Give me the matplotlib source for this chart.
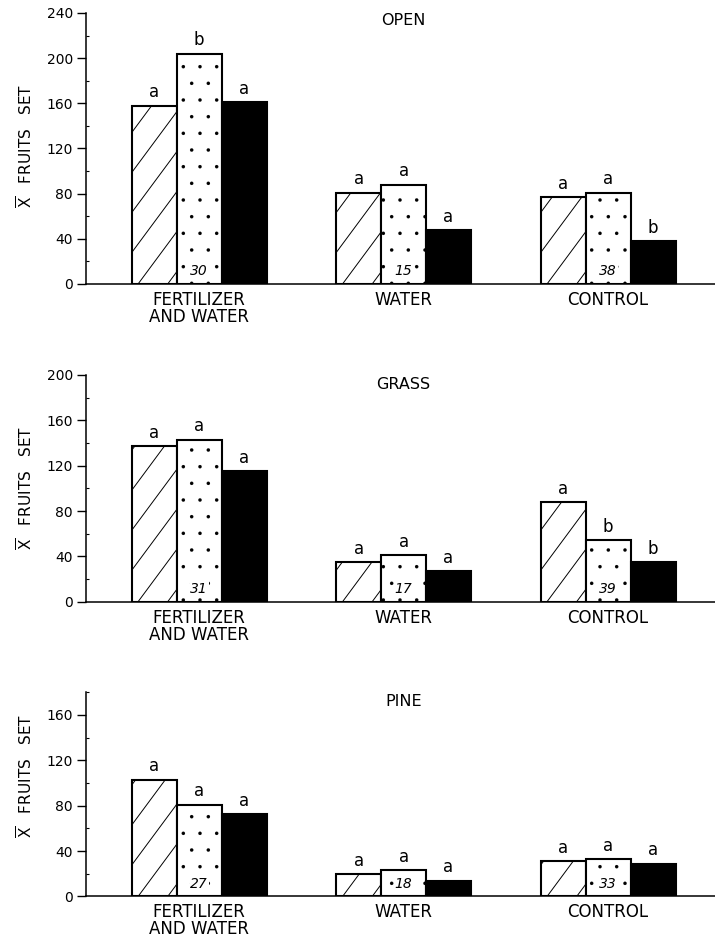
import numpy as np
import matplotlib
matplotlib.use('Agg')
import matplotlib.pyplot as plt
from matplotlib.lines import Line2D
from matplotlib.ticker import MultipleLocator

# treatment groups and habitat panels
groups = ['FERTILIZER\nAND WATER', 'WATER', 'CONTROL']
habitats = ['OPEN', 'GRASS', 'PINE']

# mean fruits set, one list per bar type (hatched / dotted / black)
open_hatch = [158, 81, 77]
open_dots = [204, 88, 81]
open_black = [161, 48, 38]
open_letters = [['a', 'b', 'a'], ['a', 'a', 'a'], ['a', 'a', 'b']]
open_n = ['30', '15', '38']

grass_hatch = [137, 35, 88]
grass_dots = [143, 41, 54]
grass_black = [115, 27, 35]
grass_letters = [['a', 'a', 'a'], ['a', 'a', 'a'], ['a', 'b', 'b']]
grass_n = ['31', '17', '39']

pine_hatch = [103, 20, 31]
pine_dots = [81, 23, 33]
pine_black = [73, 14, 29]
pine_letters = [['a', 'a', 'a'], ['a', 'a', 'a'], ['a', 'a', 'a']]
pine_n = ['27', '18', '33']

ymax = [240, 200, 180]
ytop_label = [240, 200, 160]

panels = [
    (open_hatch, open_dots, open_black, open_letters, open_n),
    (grass_hatch, grass_dots, grass_black, grass_letters, grass_n),
    (pine_hatch, pine_dots, pine_black, pine_letters, pine_n),
]

plt.rcParams['font.family'] = 'DejaVu Sans'
plt.rcParams['mathtext.fontset'] = 'dejavusans'
plt.rcParams['hatch.linewidth'] = 0.1

fig = plt.figure(figsize=(7.15, 9.4), dpi=100)
boxes = [[0.1203, 0.6979, 0.8797, 0.2883],
         [0.1203, 0.3599, 0.8797, 0.2412],
         [0.1203, 0.0463, 0.8797, 0.2172]]
title_y = [0.974, 0.956, 0.954]
ylab_y = [0.51, 0.5, 0.59]


def stripe(ax, bar, gap=40, slope=1.35):
    # sparse diagonal hatch lines, clipped to the bar
    x0, y0 = ax.transData.transform((bar.get_x(), 0))
    x1, y1 = ax.transData.transform((bar.get_x() + bar.get_width(), bar.get_height()))
    inv = ax.transData.inverted()
    b = y0 - slope * x1 + 12
    while b < y1 - slope * x0:
        pts = inv.transform([(x0, slope * x0 + b), (x1, slope * x1 + b)])
        ln = Line2D(pts[:, 0], pts[:, 1], color='k', lw=0.7, zorder=2)
        ax.add_line(ln)
        ln.set_clip_path(bar)
        b += gap


x = np.arange(len(groups))
w = 0.22

for i, (hv, dv, bv, letters, ns) in enumerate(panels):
    ax = fig.add_axes(boxes[i])
    ax.set_xlim(-0.553, 2.523)
    ax.set_ylim(0, ymax[i])

    b1 = ax.bar(x - w, hv, w, facecolor='white', edgecolor='k', linewidth=1.5, zorder=1)
    b2 = ax.bar(x, dv, w, facecolor='white', edgecolor='k', linewidth=1.5, hatch='.', zorder=1)
    b3 = ax.bar(x + w, bv, w, facecolor='k', edgecolor='k', linewidth=1.5, zorder=1)

    for bar in b1:
        stripe(ax, bar)

    for g in range(len(groups)):
        for k, (bars, off) in enumerate([(b1, -w), (b2, 0), (b3, w)]):
            ax.annotate(letters[g][k], (x[g] + off, bars[g].get_height()),
                        xytext=(0, 3), textcoords='offset points',
                        ha='center', va='bottom', fontsize=12)
        ax.annotate(ns[g], (x[g], 0), xytext=(0, 4), textcoords='offset points',
                    ha='center', va='bottom', fontsize=10, style='italic',
                    bbox=dict(fc='white', ec='none', pad=0.5), zorder=3)

    for s in ['top', 'right']:
        ax.spines[s].set_visible(False)
    for s in ['left', 'bottom']:
        ax.spines[s].set_linewidth(1.1)

    ax.set_yticks(np.arange(0, ytop_label[i] + 1, 40))
    ax.yaxis.set_minor_locator(MultipleLocator(20))
    ax.tick_params(axis='y', which='major', direction='out', length=6.5, width=1,
                   labelsize=10, pad=3)
    ax.tick_params(axis='y', which='minor', direction='in', length=2.5, width=0.8)
    ax.set_xticks(x, groups)
    ax.tick_params(axis='x', length=0, pad=5, labelsize=12)
    for lab in ax.get_xticklabels():
        lab.set_linespacing(0.92)

    ax.set_ylabel(r'$\overline{\mathrm{X}}$   FRUITS   SET', fontsize=11)
    ax.yaxis.set_label_coords(-0.08, ylab_y[i])

    ax.text(1, title_y[i], habitats[i], transform=ax.get_xaxis_transform(),
            ha='center', va='center', fontsize=11.5)

fig.savefig('out.png', dpi=100)
